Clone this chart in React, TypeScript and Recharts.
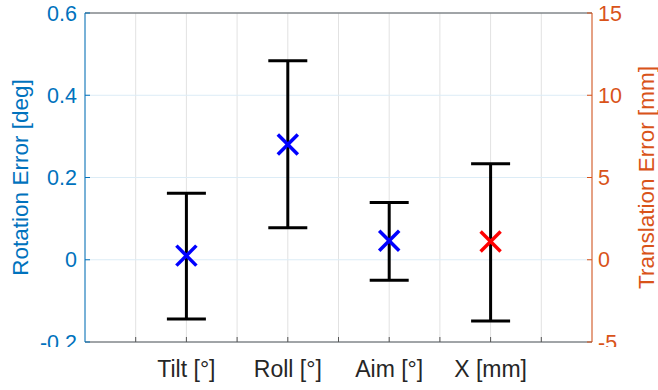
import { CartesianGrid, ComposedChart, ErrorBar, Scatter, XAxis, YAxis } from "recharts"

const categories = ["Tilt [°]", "Roll [°]", "Aim [°]", "X [mm]"]
const xTicks = [1, 2, 3, 4, 5, 6, 7, 8, 9]
const rotationTicks = [-0.2, 0, 0.2, 0.4, 0.6]
const translationTicks = [-5, 0, 5, 10, 15]

// rotation error [deg] for Tilt, Roll, Aim
const rotationMean = [0.01, 0.28, 0.046]
const rotationLow = [-0.144, 0.078, -0.05]
const rotationHigh = [0.162, 0.484, 0.139]

// translation error [mm] for X
const translationMean = [1.11]
const translationLow = [-3.72]
const translationHigh = [5.83]

const BLUE_AXIS = "#0072BD"
const ORANGE_AXIS = "#D95319"
const DARK = "#262626"

// each category sits on every second x tick
const catPos = (i: number) => 2 * (i + 1)

const rotationData = rotationMean.map((m, i) => ({
  x: catPos(i),
  y: m,
  err: [m - rotationLow[i], rotationHigh[i] - m],
}))

const translationData = translationMean.map((m, i) => ({
  x: catPos(rotationMean.length + i),
  y: m,
  err: [m - translationLow[i], translationHigh[i] - m],
}))

function Cross({ cx, cy, color }: any) {
  const s = 10
  return (
    <g>
      <line x1={cx - s} y1={cy - s} x2={cx + s} y2={cy + s} stroke={color} strokeWidth={3.5} />
      <line x1={cx - s} y1={cy + s} x2={cx + s} y2={cy - s} stroke={color} strokeWidth={3.5} />
    </g>
  )
}

// lowest tick label is cut off at the bottom, as in the original figure
function YTick({ x, y, payload, textAnchor, color, low, id }: any) {
  const clipped = payload.value === low
  return (
    <g>
      {clipped && (
        <defs>
          <clipPath id={id}>
            <rect x={x - 60} y={y - 20} width={120} height={25} />
          </clipPath>
        </defs>
      )}
      <text
        x={x}
        y={y}
        dy="0.355em"
        textAnchor={textAnchor}
        fill={color}
        fontSize={21.5}
        clipPath={clipped ? `url(#${id})` : undefined}
      >
        {payload.value}
      </text>
    </g>
  )
}

function xLabel(v: number) {
  const i = v / 2 - 1
  return Number.isInteger(i) && categories[i] ? categories[i] : ""
}

export default function App() {
  return (
    <div
      style={{
        position: "absolute",
        left: 0,
        top: 0,
        width: 658,
        height: 390,
        background: "#fff",
        fontFamily: "'Liberation Sans', Arial, sans-serif",
      }}
    >
      <ComposedChart width={658} height={390} margin={{ top: 0, right: 0, bottom: 0, left: 0 }}>
        <CartesianGrid xAxisId="bottom" yAxisId="left" horizontal={false} stroke="#e2e2e2" />
        <CartesianGrid xAxisId="bottom" yAxisId="left" vertical={false} stroke="#dcecf6" />
        <XAxis
          xAxisId="bottom"
          type="number"
          dataKey="x"
          domain={[0, 10]}
          ticks={xTicks}
          interval={0}
          height={48}
          tickFormatter={xLabel}
          tickSize={-5}
          tickMargin={24}
          tick={{ fill: DARK, fontSize: 23 }}
          axisLine={{ stroke: "#555" }}
          tickLine={{ stroke: "#555" }}
        />
        <XAxis
          xAxisId="top"
          orientation="top"
          type="number"
          dataKey="x"
          domain={[0, 10]}
          ticks={xTicks}
          interval={0}
          height={13}
          tickFormatter={() => ""}
          tickSize={-5}
          axisLine={{ stroke: "#555" }}
          tickLine={{ stroke: "#555" }}
        />
        <YAxis
          yAxisId="left"
          type="number"
          dataKey="y"
          domain={[-0.2, 0.6]}
          ticks={rotationTicks}
          interval={0}
          width={85}
          tickSize={-5}
          tickMargin={13}
          tick={(p: any) => <YTick {...p} color={BLUE_AXIS} low={-0.2} id="clip-left" />}
          axisLine={{ stroke: BLUE_AXIS }}
          tickLine={{ stroke: BLUE_AXIS }}
          label={{
            value: "Rotation Error [deg]",
            angle: -90,
            position: "center",
            dx: -22,
            fill: BLUE_AXIS,
            fontSize: 22.5,
          }}
        />
        <YAxis
          yAxisId="right"
          orientation="right"
          type="number"
          dataKey="y"
          domain={[-5, 15]}
          ticks={translationTicks}
          interval={0}
          width={66}
          tickSize={-5}
          tickMargin={11}
          tick={(p: any) => <YTick {...p} color={ORANGE_AXIS} low={-5} id="clip-right" />}
          axisLine={{ stroke: ORANGE_AXIS }}
          tickLine={{ stroke: ORANGE_AXIS }}
          label={{
            value: "Translation Error [mm]",
            angle: -90,
            position: "center",
            dx: 21,
            fill: ORANGE_AXIS,
            fontSize: 22.5,
          }}
        />
        <Scatter
          xAxisId="bottom"
          yAxisId="left"
          data={rotationData}
          isAnimationActive={false}
          shape={(p: any) => <Cross {...p} color="#0000ff" />}
        >
          <ErrorBar dataKey="err" direction="y" width={19.5} strokeWidth={3} stroke="#000" isAnimationActive={false} />
        </Scatter>
        <Scatter
          xAxisId="bottom"
          yAxisId="right"
          data={translationData}
          isAnimationActive={false}
          shape={(p: any) => <Cross {...p} color="#ff0000" />}
        >
          <ErrorBar dataKey="err" direction="y" width={19.5} strokeWidth={3} stroke="#000" isAnimationActive={false} />
        </Scatter>
      </ComposedChart>
    </div>
  )
}
